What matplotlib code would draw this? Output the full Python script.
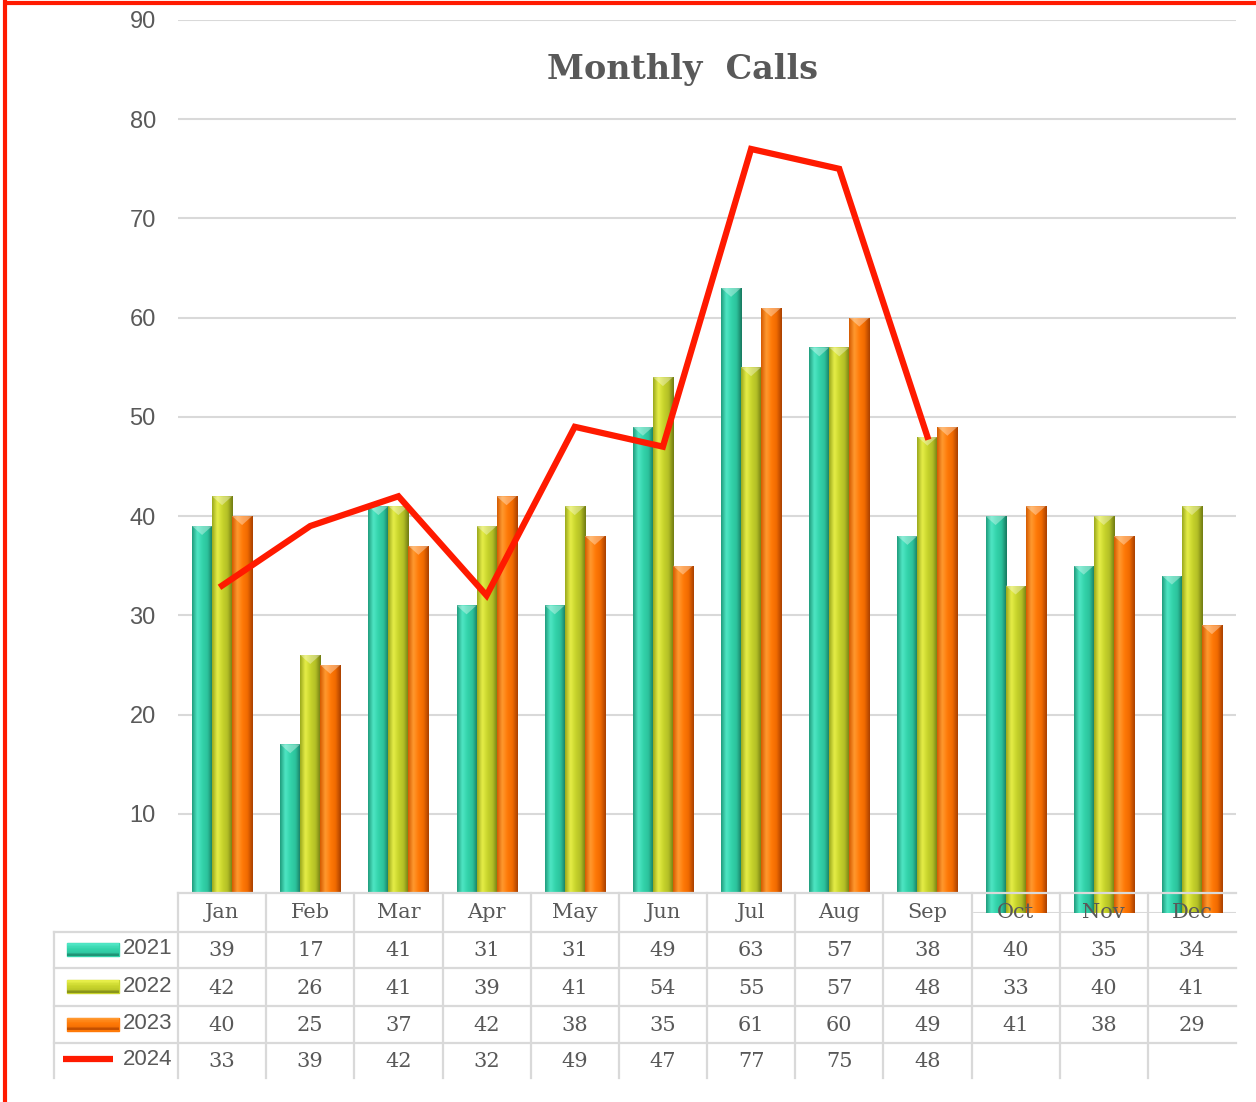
import numpy as np
import matplotlib.pyplot as plt
from matplotlib.colors import LinearSegmentedColormap
from matplotlib.patches import Rectangle

months = ["Jan", "Feb", "Mar", "Apr", "May", "Jun", "Jul", "Aug", "Sep", "Oct", "Nov", "Dec"]
years = ["2021", "2022", "2023", "2024"]
calls_2021 = [39, 17, 41, 31, 31, 49, 63, 57, 38, 40, 35, 34]
calls_2022 = [42, 26, 41, 39, 41, 54, 55, 57, 48, 33, 40, 41]
calls_2023 = [40, 25, 37, 42, 38, 35, 61, 60, 49, 41, 38, 29]
calls_2024 = [33, 39, 42, 32, 49, 47, 77, 75, 48]

GRAY_TXT = "#595959"
GRID = "#d9d9d9"
RED = "#ff1a00"

# light -> base -> dark, mimics the bevelled excel bars
bar_cmaps = [
    LinearSegmentedColormap.from_list("teal", ["#1f9c7c", "#4fe6c4", "#33d3aa", "#2cc29c", "#17785e"]),
    LinearSegmentedColormap.from_list("lime", ["#9aa81c", "#e6ee48", "#c8d42c", "#b3bf26", "#6f7a12"]),
    LinearSegmentedColormap.from_list("orng", ["#d45a00", "#ff9a30", "#ff7a08", "#f06a00", "#a84000"]),
]

W, H = 1256, 1102
fig = plt.figure(figsize=(W / 100, H / 100), dpi=100)


def fx(px):
    return px / W


def fy(py):
    return 1 - py / H


# ── main plot area ─────────────────────────────────────────────
ax = fig.add_axes([fx(178), fy(913), fx(1236) - fx(178), fy(20) - fy(913)], zorder=1)
ax.set_xlim(-0.5, len(months) - 0.5)
ax.set_ylim(0, 90)
ax.set_yticks(range(0, 91, 10))
ax.tick_params(axis="y", length=0, pad=16, labelsize=17, labelcolor=GRAY_TXT)
for lab in ax.get_yticklabels():
    lab.set_family("Liberation Sans")
ax.set_xticks([])
ax.grid(axis="y", color=GRID, lw=1.5)
ax.set_axisbelow(True)
for s in ax.spines.values():
    s.set_visible(False)

x = np.arange(len(months))
bw = 0.227
grad = np.linspace(0, 1, 64).reshape(1, -1)
for i, vals in enumerate([calls_2021, calls_2022, calls_2023]):
    bars = ax.bar(x + (i - 1) * bw, vals, bw, color=bar_cmaps[i](0.5), edgecolor="none", zorder=2)
    for b in bars:
        x0, w, h = b.get_x(), b.get_width(), b.get_height()
        im = ax.imshow(grad, cmap=bar_cmaps[i], aspect="auto", extent=(x0, x0 + w, 0, h),
                       zorder=2.5, interpolation="bicubic")
        im.set_clip_path(b)
        # bevel cap
        ax.fill([x0, x0 + w, x0 + w / 2], [h, h, h - 0.9], color="white", alpha=0.35, zorder=3, lw=0)
ax.set_xlim(-0.5, len(months) - 0.5)
ax.set_ylim(0, 90)

ax.plot(x[:len(calls_2024)], calls_2024, color=RED, lw=4.5, zorder=4, solid_joinstyle="miter")

fig.text(fx(682), fy(70), "Monthly  Calls", ha="center", va="center", fontsize=24,
         fontweight="bold", family="DejaVu Serif", color=GRAY_TXT)

# ── data table ─────────────────────────────────────────────────
tab = fig.add_axes([0, 0, 1, 1], zorder=2)
tab.set_xlim(0, W)
tab.set_ylim(H, 0)
tab.axis("off")
tab.patch.set_visible(False)

col_left = 178
col_w = (1236 - 178) / len(months)
row_edges = [893, 932, 968, 1006, 1043, 1078]

# white cover below the plot (Jan-Sep header cells clip the bars, Oct-Dec bars show through)
tab.add_patch(Rectangle((0, 893), col_left + 9 * col_w, 39, color="white", zorder=0))
tab.add_patch(Rectangle((0, 932), W, H - 932, color="white", zorder=0))

lw = 1.6
tab.plot([col_left, 1236], [893, 893], color=GRID, lw=lw)
for r in row_edges[1:-1]:
    tab.plot([54, 1236], [r, r], color=GRID, lw=lw)
tab.plot([54, 54], [932, 1078], color=GRID, lw=lw)
for j in range(len(months)):
    xl = col_left + j * col_w
    tab.plot([xl, xl], [893, 1078], color=GRID, lw=lw)

for j, m in enumerate(months):
    tab.text(col_left + (j + 0.5) * col_w, 913, m, ha="center", va="center",
             fontsize=15, family="DejaVu Serif", color=GRAY_TXT)

key_grad = np.array([[0.25], [0.4], [0.5], [0.6], [0.9]])
rows = [calls_2021, calls_2022, calls_2023, calls_2024]
for r, vals in enumerate(rows):
    yc = (row_edges[r + 1] + row_edges[r + 2]) / 2
    for j, v in enumerate(vals):
        tab.text(col_left + (j + 0.5) * col_w, yc + 1, str(v), ha="center", va="center",
                 fontsize=15, family="DejaVu Serif", color=GRAY_TXT)
    tab.text(123, yc - 1, years[r], ha="left", va="center", fontsize=16,
             family="Liberation Sans", color=GRAY_TXT)
    if r < 3:
        key = Rectangle((67, yc - 7), 52, 13, color=bar_cmaps[r](0.5), zorder=2)
        tab.add_patch(key)
        kim = tab.imshow(key_grad, cmap=bar_cmaps[r], vmin=0, vmax=1, aspect="auto",
                         extent=(67, 119, yc + 6, yc - 7), zorder=3)
        kim.set_clip_path(key)
    else:
        tab.plot([63, 113], [yc - 2, yc - 2], color=RED, lw=4.5, solid_capstyle="butt")

tab.set_xlim(0, W)
tab.set_ylim(H, 0)

# red frame (top + left)
tab.plot([4, W], [3, 3], color=RED, lw=3, solid_capstyle="butt")
tab.plot([5, 5], [0, H], color=RED, lw=3, solid_capstyle="butt")

fig.savefig("out.png", dpi=100)
